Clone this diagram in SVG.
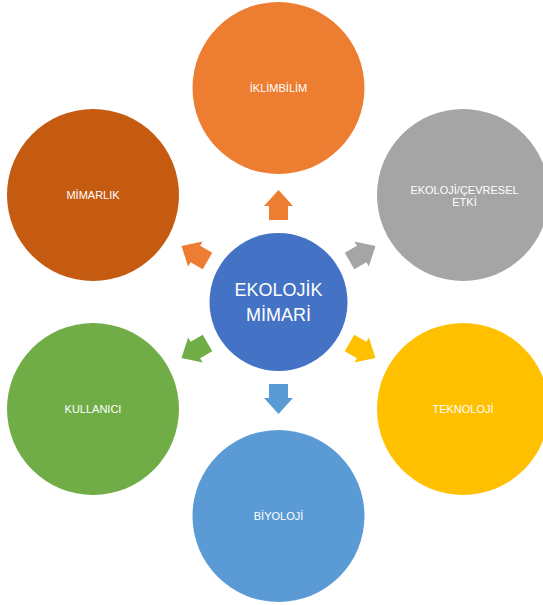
<svg xmlns="http://www.w3.org/2000/svg" width="543" height="605" viewBox="0 0 543 605">
<defs>
<style>
.lbl{font-family:"Liberation Sans",Arial,sans-serif;font-size:11px;fill:#ffffff;text-anchor:middle}
.ctr{font-family:"Liberation Sans",Arial,sans-serif;font-size:18px;fill:#ffffff;text-anchor:middle}
</style>
<polygon id="arr" points="0,-15 14.5,1 9.5,1 9.5,15 -9.5,15 -9.5,1 -14.5,1"/>
</defs>
<rect width="543" height="605" fill="#ffffff"/>
<g id="connectors">
<use href="#arr" fill="#ED7D31" transform="translate(278.5,302) rotate(0) translate(0,-97)"/>
<use href="#arr" fill="#A5A5A5" transform="translate(278.5,302) rotate(60) translate(0,-97)"/>
<use href="#arr" fill="#FFC000" transform="translate(278.5,302) rotate(120) translate(0,-97)"/>
<use href="#arr" fill="#5B9BD5" transform="translate(278.5,302) rotate(180) translate(0,-97)"/>
<use href="#arr" fill="#70AD47" transform="translate(278.5,302) rotate(240) translate(0,-97)"/>
<use href="#arr" fill="#ED7D31" transform="translate(278.5,302) rotate(300) translate(0,-97)"/>
</g>
<g id="center">
<circle cx="278.5" cy="302" r="69" fill="#4472C4"/>
<text class="ctr" x="278.5" y="296">EKOLOJİK</text>
<text class="ctr" x="278.5" y="321">MİMARİ</text>
</g>
<g id="iklimbilim">
<circle cx="278.5" cy="88" r="86" fill="#ED7D31"/>
<text class="lbl" x="278.5" y="92">İKLİMBİLİM</text>
</g>
<g id="ekoloji">
<circle cx="463" cy="195" r="86" fill="#A5A5A5"/>
<text class="lbl" x="464.5" y="194">EKOLOJİ/ÇEVRESEL</text>
<text class="lbl" x="464.5" y="206">ETKİ</text>
</g>
<g id="teknoloji">
<circle cx="463" cy="409" r="86" fill="#FFC000"/>
<text class="lbl" x="463" y="413">TEKNOLOJİ</text>
</g>
<g id="biyoloji">
<circle cx="278.5" cy="516" r="86" fill="#5B9BD5"/>
<text class="lbl" x="278.5" y="520">BİYOLOJİ</text>
</g>
<g id="kullanici">
<circle cx="93" cy="409" r="86" fill="#70AD47"/>
<text class="lbl" x="93" y="413">KULLANICI</text>
</g>
<g id="mimarlik">
<circle cx="93" cy="195" r="86" fill="#C55A11"/>
<text class="lbl" x="93" y="199">MİMARLIK</text>
</g>
</svg>
